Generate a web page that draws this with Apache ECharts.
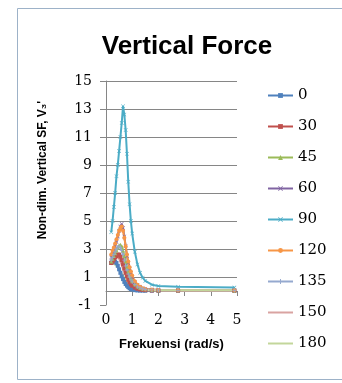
<!DOCTYPE html>
<html>
<head>
<meta charset="utf-8">
<script src="https://cdn.jsdelivr.net/npm/echarts@6/dist/echarts.min.js"></script>
<style>
  html, body { margin: 0; padding: 0; background: #fff; }
  #chart { width: 342px; height: 383px; }
</style>
</head>
<body>
<div id="chart"></div>
<script>
// frekuensi (rad/s)
var freq = [0.2, 0.25, 0.3, 0.35, 0.4, 0.45, 0.5, 0.55, 0.6, 0.65, 0.7, 0.75, 0.8, 0.85, 0.9, 0.95, 1.0, 1.1, 1.2, 1.3, 1.4, 1.5, 1.75, 2.0, 2.75, 4.9];
var headings = ['0', '30', '45', '60', '90', '120', '135', '150', '180'];
var v0   = [2.0, 2.1, 2.15, 2.1, 2.0, 1.8, 1.55, 1.3, 1.05, 0.85, 0.65, 0.5, 0.38, 0.28, 0.2, 0.14, 0.1, 0.06, 0.04, 0.03, 0.03, 0.02, 0.02, 0.02, 0.02, 0.02];
var v30  = [2.0, 2.1, 2.25, 2.4, 2.5, 2.6, 2.6, 2.45, 2.2, 1.9, 1.6, 1.3, 1.05, 0.8, 0.62, 0.48, 0.38, 0.24, 0.16, 0.11, 0.08, 0.06, 0.04, 0.03, 0.03, 0.02];
var v45  = [2.1, 2.3, 2.5, 2.7, 2.9, 3.1, 3.25, 3.3, 3.2, 2.9, 2.5, 2.1, 1.7, 1.4, 1.1, 0.9, 0.7, 0.48, 0.32, 0.22, 0.16, 0.12, 0.08, 0.06, 0.05, 0.04];
var v60  = [2.4, 2.6, 2.9, 3.2, 3.5, 3.9, 4.3, 4.6, 4.8, 4.5, 3.9, 3.2, 2.5, 2.0, 1.6, 1.3, 1.0, 0.65, 0.42, 0.3, 0.2, 0.15, 0.1, 0.08, 0.06, 0.05];
var v90  = [4.2, 5.0, 6.0, 7.0, 8.2, 9.0, 10.0, 11.0, 12.0, 13.2, 12.6, 11.5, 9.8, 7.8, 6.2, 5.0, 4.1, 2.8, 1.9, 1.3, 0.95, 0.72, 0.45, 0.35, 0.3, 0.25];
var v120 = [2.6, 2.9, 3.1, 3.4, 3.7, 4.0, 4.3, 4.5, 4.6, 4.3, 3.8, 3.2, 2.6, 2.1, 1.7, 1.4, 1.1, 0.7, 0.45, 0.3, 0.2, 0.15, 0.1, 0.08, 0.06, 0.05];
var v135 = [2.2, 2.4, 2.6, 2.8, 3.0, 3.15, 3.2, 3.1, 2.9, 2.6, 2.2, 1.8, 1.5, 1.2, 1.0, 0.8, 0.65, 0.45, 0.3, 0.22, 0.16, 0.12, 0.08, 0.06, 0.05, 0.04];
var v150 = [2.2, 2.3, 2.4, 2.5, 2.5, 2.45, 2.3, 2.1, 1.85, 1.6, 1.35, 1.1, 0.9, 0.72, 0.58, 0.46, 0.37, 0.25, 0.17, 0.12, 0.09, 0.07, 0.05, 0.04, 0.04, 0.03];
var v180 = [1.9, 1.95, 1.95, 1.9, 1.8, 1.7, 1.55, 1.4, 1.25, 1.1, 0.95, 0.8, 0.65, 0.55, 0.45, 0.38, 0.3, 0.22, 0.16, 0.12, 0.1, 0.08, 0.06, 0.05, 0.05, 0.05];
var values = [v0, v30, v45, v60, v90, v120, v135, v150, v180];

var colors = ['#4F81BD', '#C0504D', '#9BBB59', '#8064A2', '#4BACC6', '#F79646', '#95A9CF', '#D9A3A1', '#C3D69B'];
var crossX = 'path://M0,1L1,0L5,4L9,0L10,1L6,5L10,9L9,10L5,6L1,10L0,9L4,5Z';
var plus = 'path://M4,0H6V4H10V6H6V10H4V6H0V4H4Z';
// 'line' for the plain series so the legend shows only the stroke
var symbols = ['rect', 'rect', 'triangle', crossX, crossX, 'circle', plus, 'line', 'line'];

function pairs(ys) {
  var out = [];
  for (var i = 0; i < freq.length; i++) out.push([freq[i], ys[i]]);
  return out;
}

var series = [];
for (var k = 0; k < headings.length; k++) {
  series.push({
    name: headings[k],
    type: 'line',
    xAxisIndex: 0,
    data: pairs(values[k]),
    symbol: symbols[k],
    symbolSize: 4,
    showSymbol: symbols[k] !== 'line',
    lineStyle: { width: 2, color: colors[k] },
    itemStyle: { color: colors[k] },
    emphasis: { disabled: true }
  });
}

var serif = 'DejaVu Serif';
var chart = echarts.init(document.getElementById('chart'));
chart.setOption({
  animation: false,
  color: colors,
  title: {
    text: 'Vertical Force',
    left: 182, top: 29, textAlign: 'center',
    textStyle: { fontFamily: 'Liberation Sans', fontWeight: 'bold', fontSize: 26, color: '#000' }
  },
  graphic: [
    { type: 'rect', left: 15, top: 6, shape: { width: 345, height: 371 }, style: { fill: 'none', stroke: '#9DB2C8', lineWidth: 1 }, silent: true },
    { type: 'text', x: 43, y: 170, rotation: Math.PI / 2,
      style: { text: "Non-dim. Vertical SF, V\u2083'", fontFamily: 'Liberation Sans', fontWeight: 'bold', fontSize: 12, fill: '#000', align: 'center', verticalAlign: 'middle' } }
  ],
  legend: {
    orient: 'vertical',
    left: 267, top: 88, padding: 0,
    itemWidth: 25, itemHeight: 6, itemGap: 16,
    data: headings,
    textStyle: { fontFamily: serif, fontSize: 15, color: '#000' }
  },
  grid: { left: 106, right: 105, top: 81, bottom: 78 },
  xAxis: [
    {
      type: 'value', min: 0, max: 5, interval: 1,
      axisLine: { onZero: true, lineStyle: { color: '#868686' } },
      axisTick: { show: true, length: 5, lineStyle: { color: '#868686' } },
      axisLabel: { show: false },
      splitLine: { show: false }
    },
    {
      type: 'value', min: 0, max: 5, interval: 1, position: 'bottom',
      axisLine: { show: false, onZero: false },
      axisTick: { show: false },
      axisLabel: { margin: 8, fontFamily: serif, fontSize: 14, color: '#000' },
      splitLine: { show: false },
      name: 'Frekuensi (rad/s)', nameLocation: 'middle', nameGap: 33,
      nameTextStyle: { fontFamily: 'Liberation Sans', fontWeight: 'bold', fontSize: 13, color: '#000' }
    }
  ],
  yAxis: {
    type: 'value', min: -1, max: 15, interval: 2,
    axisLine: { show: true, lineStyle: { color: '#868686' } },
    axisTick: { show: true, length: 6, lineStyle: { color: '#868686' } },
    axisLabel: { margin: 14, fontFamily: serif, fontSize: 14, color: '#000' },
    splitLine: { show: true, showMinLine: false, lineStyle: { color: '#868686' } }
  },
  series: series
});
</script>
</body>
</html>
